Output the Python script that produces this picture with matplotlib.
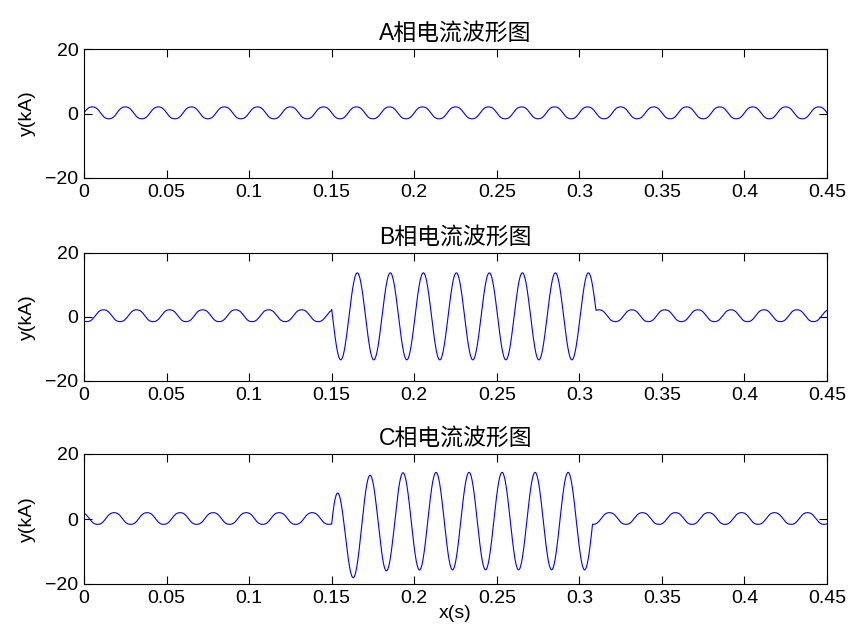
import matplotlib
matplotlib.use('Agg')
import matplotlib.pyplot as plt
import numpy as np

plt.rcParams['font.family'] = ['Liberation Sans', 'Noto Sans CJK SC', 'DejaVu Sans']

# --- data (per phase A, B, C) ---
titles = ['A相电流波形图', 'B相电流波形图', 'C相电流波形图']
freq = 50.0                                 # Hz
normal_amp = [1.85, 1.85, 1.8]              # kA
normal_offset = [0.2, 0.4, 0.15]            # kA
normal_peak_t = [0.0050, 0.0118, 0.0182]    # s, time of first peak
harm3 = 0.05                                # slight flat-top of the normal wave

fault_start = [None, 0.150, 0.150]          # s
fault_end = [None, 0.310, 0.308]            # s
fault_amp = [0.0, 13.6, 15.0]               # kA
fault_peak_t = [0.0, 0.1655, 0.1732]        # s
fault_offset = [0.0, 0.2, -0.65]            # kA
dc_init = [0.0, 0.0, -8.95]                 # kA, decaying dc at fault start
dc_tau = 0.01                               # s

xticks = [0, 0.05, 0.1, 0.15, 0.2, 0.25, 0.3, 0.35, 0.4, 0.45]
xtick_labels = ['0', '0.05', '0.1', '0.15', '0.2', '0.25', '0.3', '0.35', '0.4', '0.45']
yticks = [-20, 0, 20]

t = np.arange(0, 0.4501, 0.0001)
w = 2 * np.pi * freq


def phase_current(i):
    x = w * (t - normal_peak_t[i]) + np.pi / 2
    y = normal_amp[i] * (np.sin(x) + harm3 * np.sin(3 * x)) / (1 - harm3) + normal_offset[i]
    if fault_start[i] is not None:
        m = (t >= fault_start[i]) & (t <= fault_end[i])
        tf = t[m]
        y[m] = (fault_amp[i] * np.cos(w * (tf - fault_peak_t[i]))
                + dc_init[i] * np.exp(-(tf - fault_start[i]) / dc_tau)
                + fault_offset[i])
    return y


fig = plt.figure(figsize=(8.52, 6.39), dpi=100)

# axes boxes in figure coords
boxes = [
    [84 / 852, 1 - 178 / 639, 743 / 852, 129 / 639],
    [84 / 852, 1 - 381 / 639, 743 / 852, 128 / 639],
    [84 / 852, 1 - 584 / 639, 743 / 852, 130 / 639],
]

for i in range(3):
    ax = fig.add_axes(boxes[i])
    ax.plot(t, phase_current(i), color='#0000ff', linewidth=0.8)
    ax.set_xlim(0, 0.45)
    ax.set_ylim(-20, 20)
    ax.set_xticks(xticks)
    ax.set_xticklabels(xtick_labels)
    ax.set_yticks(yticks)
    ax.tick_params(direction='in', top=True, right=True, labelsize=14,
                   length=5.5, width=0.8)
    ax.tick_params(axis='x', pad=4)
    ax.tick_params(axis='y', pad=4)
    for s in ax.spines.values():
        s.set_linewidth(0.8)
    ax.set_title(titles[i], fontsize=16.5, pad=7)
    ax.set_ylabel('y(kA)', fontsize=14, labelpad=7)
    if i == 2:
        ax.set_xlabel('x(s)', fontsize=14, labelpad=-1)

fig.savefig('out.png', dpi=100)
